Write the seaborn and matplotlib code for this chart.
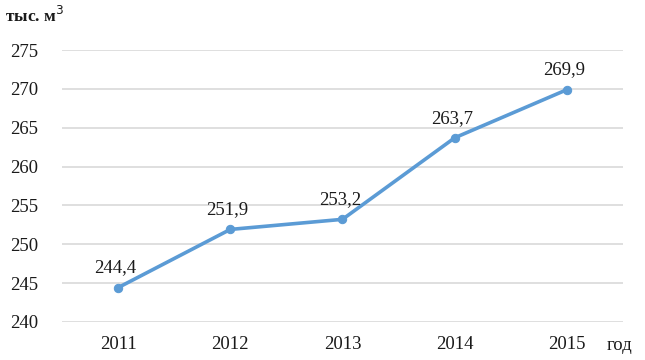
import matplotlib
matplotlib.use("Agg")
import matplotlib.pyplot as plt
import seaborn as sns
import pandas as pd

years = ["2011", "2012", "2013", "2014", "2015"]
values = [244.4, 251.9, 253.2, 263.7, 269.9]
labels = ["244,4", "251,9", "253,2", "263,7", "269,9"]
yticks = [240, 245, 250, 255, 260, 265, 270, 275]

sns.set_theme(style="white")
plt.rcParams["font.family"] = ["Liberation Serif", "DejaVu Serif"]

df = pd.DataFrame({"year": years, "value": values})

fig = plt.figure(figsize=(6.45, 3.6), dpi=100)
ax = fig.add_axes([0.096, 0.106, 0.87, 0.755])

for t in yticks:
    ax.axhline(t, color="#d9d9d9", lw=1.2, zorder=0)

sns.lineplot(data=df, x="year", y="value", ax=ax, color="#5B9BD5", lw=2.6,
             marker="o", markersize=6, markeredgecolor="#5B9BD5", sort=False)

for i, (v, l) in enumerate(zip(values, labels)):
    ax.annotate(l, (i, v), xytext=(-2, 8), textcoords="offset points",
                ha="center", va="bottom", fontsize=13.5, color="#1a1a1a")

ax.set_xlim(-0.5, 4.5)
ax.set_ylim(240, 275)
ax.set_yticks(yticks)
ax.set_yticklabels([str(t) for t in yticks])
ax.tick_params(axis="both", labelsize=13.5, length=0, colors="#1a1a1a")
ax.tick_params(axis="y", pad=17)
ax.tick_params(axis="x", pad=10)
ax.set_xlabel("")
ax.set_ylabel("")
for s in ax.spines.values():
    s.set_visible(False)

fig.text(0.008, 0.955, "тыс. м$^3$", fontsize=12.5, color="#1a1a1a", ha="left", va="center",
         fontweight="bold")
fig.text(0.94, 0.04, "год", fontsize=13.5, color="#1a1a1a", ha="left", va="center")

fig.savefig("out.png", dpi=100)
